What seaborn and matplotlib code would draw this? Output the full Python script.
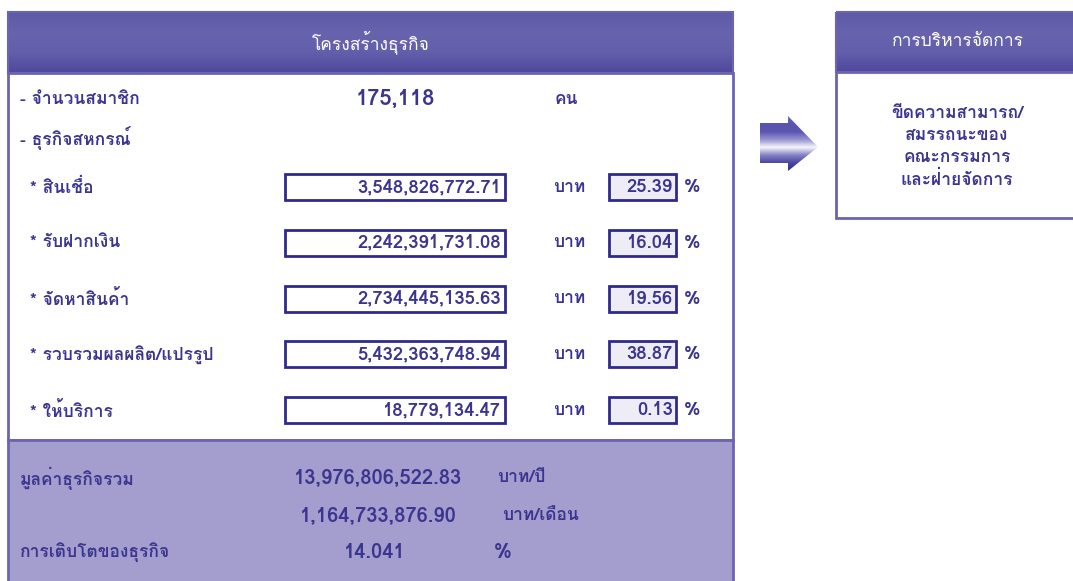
import numpy as np
import matplotlib
matplotlib.use("Agg")
import matplotlib.pyplot as plt
from matplotlib import font_manager
from matplotlib.ft2font import FT2Font
from matplotlib.patches import Rectangle, Polygon
import seaborn as sns

# data
members = 175118
items = ["* สินเชื่อ", "* รับฝากเงิน", "* จัดหาสินค้า", "* รวบรวมผลผลิต/แปรรูป", "* ให้บริการ"]
amounts = [3548826772.71, 2242391731.08, 2734445135.63, 5432363748.94, 18779134.47]
shares = [25.39, 16.04, 19.56, 38.87, 0.13]
total_year = 13976806522.83
total_month = 1164733876.90
growth = 14.041
mgmt_lines = ["ขีดความสามารถ/", "สมรรถนะของ", "คณะกรรมการ", "และฝ่ายจัดการ"]


def find_thai_font():
    # look for any installed font that has thai glyphs
    for f in font_manager.fontManager.ttflist:
        try:
            if 0x0E01 in FT2Font(f.fname).get_charmap():
                return f.name
        except Exception:
            pass
    return None


sns.set_theme(style="white")
thai = find_thai_font()
plt.rcParams['font.family'] = [thai, 'DejaVu Sans'] if thai else ['DejaVu Sans']

INK = "#3b3590"
EDGE = "#6b64b0"
BOX = "#2f2a8c"
LAV = "#a39ecd"
PALE = "#eeedf6"

fig = plt.figure(figsize=(10.73, 5.81), dpi=100)
ax = fig.add_axes([0, 0, 1, 1])
ax.set_xlim(0, 1073)
ax.set_ylim(581, 0)
ax.axis('off')

grad = np.linspace(0, 1, 128).reshape(-1, 1)
head_cmap = sns.blend_palette(["#5f5aa7", "#6863ad", "#645fab", "#4f479d"], as_cmap=True)


def header(x0, x1, y0, y1, title):
    ax.imshow(grad, extent=(x0, x1, y1, y0), cmap=head_cmap, aspect='auto', zorder=1)
    ax.add_patch(Rectangle((x0, y0), x1 - x0, y1 - y0, fill=False, ec=EDGE, lw=1.5, zorder=3))
    ax.text((x0 + x1) / 2, (y0 + y1) / 2, title, color="white", fontsize=12.5,
            ha='center', va='center', zorder=4)


# main panel
L, R = 8, 733
header(L, R, 12, 73, "โครงสร้างธุรกิจ")
ax.add_patch(Rectangle((L, 73), R - L, 367, fc="white", ec=EDGE, lw=2, zorder=2))
ax.add_patch(Rectangle((L, 440), R - L, 150, fc=LAV, ec=EDGE, lw=2, zorder=2))

txt = dict(color=INK, fontsize=12.5, fontweight='bold', va='center', zorder=5)
num = dict(txt, fontsize=13.3)
big = dict(txt, fontsize=14.5)
ax.text(20, 99, "- จำนวนสมาชิก", ha='left', **txt)
ax.text(395, 99, f"{members:,}", ha='center', **dict(txt, fontsize=15.8))
ax.text(555, 99, "คน", ha='left', **txt)
ax.text(20, 138, "- ธุรกิจสหกรณ์", ha='left', **txt)

row_y = 187
step = 55.8
for i, (name, amt, pct) in enumerate(zip(items, amounts, shares)):
    y = row_y + i * step
    ax.text(30, y, name, ha='left', **txt)
    ax.add_patch(Rectangle((285, y - 13), 220, 26, fc="white", ec=BOX, lw=2, zorder=4))
    ax.text(501, y, f"{amt:,.2f}", ha='right', **num)
    ax.text(553, y, "บาท", ha='left', **txt)
    ax.add_patch(Rectangle((609, y - 13), 67, 26, fc=PALE, ec=BOX, lw=2, zorder=4))
    ax.text(673, y, f"{pct:.2f}", ha='right', **num)
    ax.text(684, y, "%", ha='left', **num)

ax.text(20, 478, "มูลค่าธุรกิจรวม", ha='left', **txt)
ax.text(378, 478, f"{total_year:,.2f}", ha='center', **big)
ax.text(497, 478, "บาท/ปี", ha='left', **txt)
ax.text(378, 516, f"{total_month:,.2f}", ha='center', **big)
ax.text(502, 516, "บาท/เดือน", ha='left', **txt)
ax.text(20, 552, "การเติบโตของธุรกิจ", ha='left', **txt)
ax.text(375, 552, f"{growth:.3f}", ha='center', **big)
ax.text(494, 552, "%", ha='left', **big)

# arrow with shine
arrow = Polygon([(760, 123), (788, 123), (788, 116), (818, 147), (788, 171),
                 (788, 163), (760, 163)], closed=True, fc='none', ec='none')
ax.add_patch(arrow)
arrow_cmap = sns.blend_palette(["#6e6abb", "#5a54ae", "#5c56b0", "#9995d0", "#f6f6fc",
                                "#8480c4", "#4a43a0", "#332c8c"], as_cmap=True)
im = ax.imshow(grad, extent=(760, 818, 171, 116), cmap=arrow_cmap, aspect='auto', zorder=3)
im.set_clip_path(arrow)

# management panel
header(836, 1080, 12, 72, "การบริหารจัดการ")
ax.add_patch(Rectangle((836, 72), 250, 146, fc="white", ec=EDGE, lw=2, zorder=2))
for j, line in enumerate(mgmt_lines):
    ax.text(957, 113 + j * 22, line, ha='center', **txt)

fig.savefig("out.png", dpi=100)
